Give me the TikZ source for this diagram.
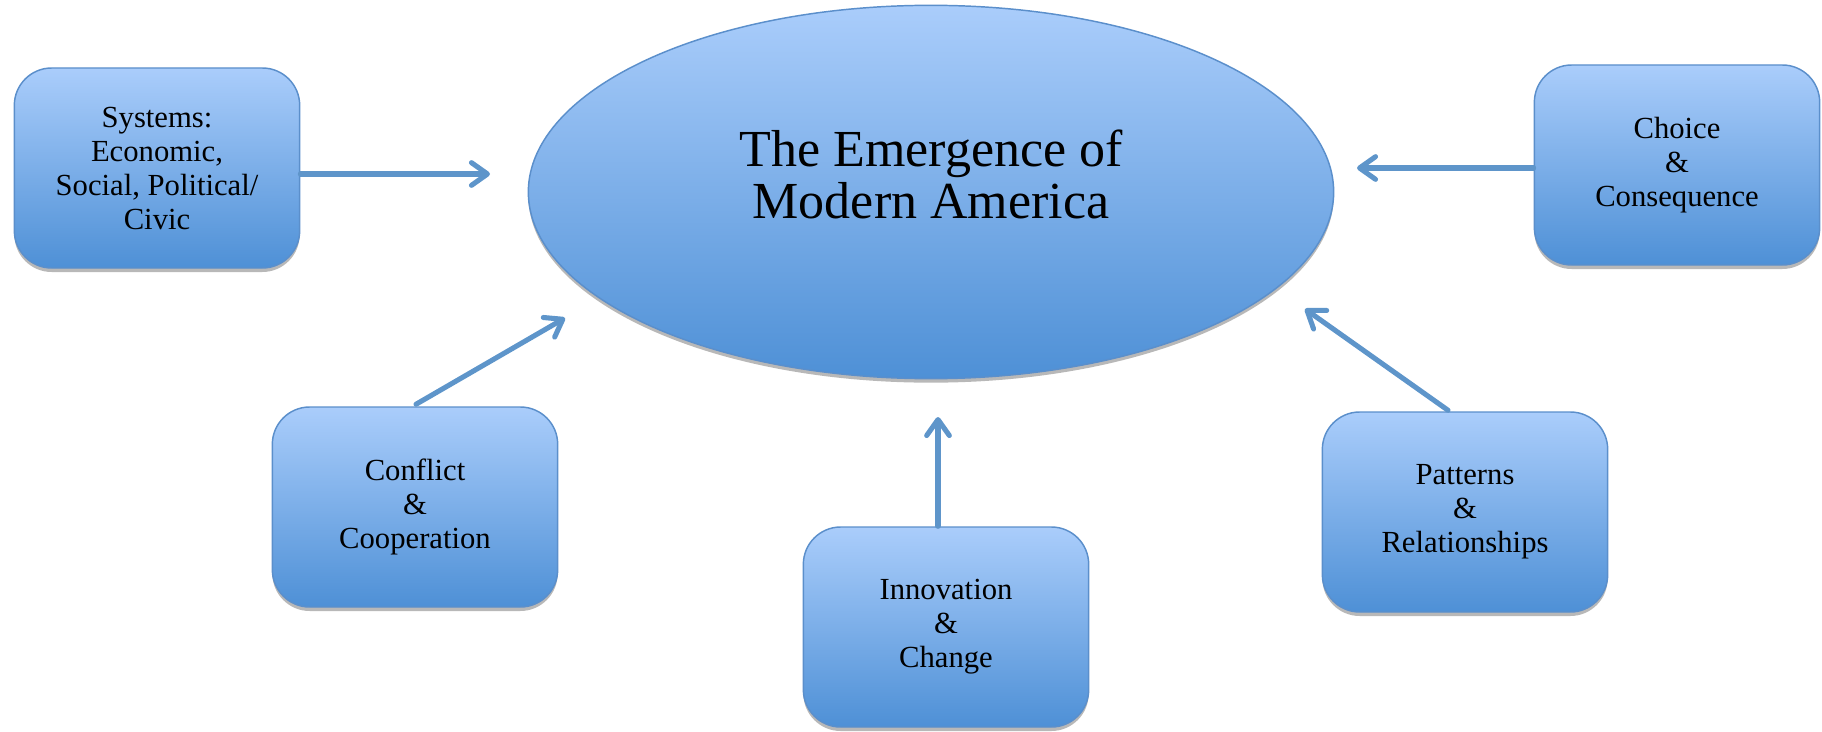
\documentclass[tikz,border=0pt]{standalone}
\usepackage{fontspec}
\setmainfont{Liberation Serif}
\usetikzlibrary{shapes.geometric,arrows.meta,shadows,calc}

\definecolor{boxtop}{HTML}{AACDFB}
\definecolor{boxbottom}{HTML}{4E90D6}
\definecolor{boxedge}{HTML}{5B8FCB}
\definecolor{linkblue}{HTML}{5E95CA}

\tikzset{
  softshadow/.style={drop shadow={shadow xshift=0pt, shadow yshift=-3pt, opacity=0.28, fill=black}},
  topic/.style={rectangle, rounded corners=28pt, draw=boxedge, line width=1.1pt,
    top color=boxtop, bottom color=boxbottom, softshadow,
    minimum width=214pt, minimum height=150pt, align=center,
    font=\fontsize{23}{25.5}\selectfont},
  hub/.style={ellipse, draw=boxedge, line width=1.1pt,
    top color=boxtop, bottom color=boxbottom, softshadow,
    minimum width=604pt, minimum height=280pt, inner sep=0pt},
  hubtext/.style={align=center, font=\fontsize{39}{39}\selectfont},
  link/.style={draw=linkblue, line width=3.8pt, line cap=round,
    -{Straight Barb[length=12pt, width=17pt, round]}}
}

\begin{document}
\begin{tikzpicture}[x=0.75pt, y=-0.75pt]
  \useasboundingbox (0,0) rectangle (1822,731);

  % central theme
  \node[hub] (hub) at (931,192) {};
  \node[hubtext] (title) at (931,174) {The Emergence of\\Modern America};

  % surrounding themes
  \node[topic] (sys)    at (157,168)  {Systems:\\Economic,\\Social, Political/\\Civic};
  \node[topic] (choice) at (1677,165) {Choice\\\&\\Consequence};
  \node[topic] (confl)  at (415,507)  {Conflict\\\&\\Cooperation};
  \node[topic] (innov)  at (946,627)  {Innovation\\\&\\Change};
  \node[topic] (patt)   at (1465,512) {Patterns\\\&\\Relationships};

  % arrow tips near the ellipse
  \coordinate (tsys)    at (490,174);
  \coordinate (tchoice) at (1357,168);
  \coordinate (tconfl)  at (565,318);
  \coordinate (tinnov)  at (938,417);
  \coordinate (tpatt)   at (1305,309);

  \draw[link] (sys.east |- tsys) -- (tsys);
  \draw[link] (choice.west |- tchoice) -- (tchoice);
  \draw[link] ($(confl.north)+(1,-2)$) -- (tconfl);
  \draw[link] (innov.north -| tinnov) -- (tinnov);
  \draw[link] ($(patt.north)+(-17,-1)$) -- (tpatt);
\end{tikzpicture}
\end{document}
